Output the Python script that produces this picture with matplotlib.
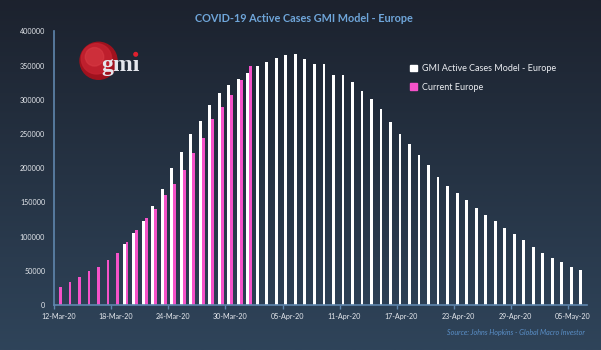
import matplotlib.pyplot as plt
import numpy as np
import pandas as pd
from matplotlib.colors import LinearSegmentedColormap
from matplotlib.patches import Circle, Patch

DATES = pd.date_range("2020-03-12", "2020-05-06", freq="D")

# GMI model series starts on 19-Mar-20
MODEL_START = 7
MODEL = [89000, 104800, 122800, 144700, 169400, 200300, 223200, 250000,
         269500, 291900, 309400, 321600, 330400, 339700, 348900, 355700,
         361600, 365000, 367000, 360100, 351900, 352800, 336300, 336300,
         326000, 313300, 301600, 286600, 267100, 250500, 235800, 219800,
         204200, 187600, 174000, 164200, 153500, 141300, 132000, 122800,
         113000, 104300, 95000, 84800, 75500, 68700, 62900, 55600, 51200]

# actual active cases, 12-Mar-20 to 01-Apr-20
CURRENT = [25900, 33200, 40500, 49200, 56000, 65800, 76000, 92600, 109600,
           126700, 140800, 160400, 176900, 197400, 221700, 244600, 271400,
           290000, 306500, 328400, 349400]

Y_TICKS = [0, 50000, 100000, 150000, 200000, 250000, 300000, 350000, 400000]

WHITE = "#ffffff"
PINK = "#f552c9"
AXIS_BLUE = "#5f86ad"
FONT = "Lato"

W, H = 601, 350


def px(x, y):
    return x / W, 1 - y / H


fig = plt.figure(figsize=(6.01, 3.5), dpi=100)

bg = fig.add_axes([0, 0, 1, 1], zorder=-10)
grad = np.linspace(0, 1, 256).reshape(-1, 1)
cmap = LinearSegmentedColormap.from_list("bg", ["#1c222e", "#2f445a"])
bg.imshow(grad, aspect="auto", cmap=cmap, extent=[0, 1, 0, 1], origin="upper")
bg.axis("off")

ax = fig.add_axes([54.3 / W, 45 / H, 532.6 / W, 273.7 / H])
ax.set_facecolor("none")

x_model = np.arange(MODEL_START, MODEL_START + len(MODEL))
x_cur = np.arange(len(CURRENT))
bw = 0.3
ax.bar(x_model - bw / 2, MODEL, width=bw, color=WHITE, linewidth=0,
       label="GMI Active Cases Model - Europe")
ax.bar(x_cur + bw / 2, CURRENT, width=bw, color=PINK, linewidth=0,
       label="Current Europe")

ax.set_xlim(-0.5, len(DATES) - 0.5)
ax.set_ylim(0, 400000)

for s in ["top", "right"]:
    ax.spines[s].set_visible(False)
for s in ["left", "bottom"]:
    ax.spines[s].set_color(AXIS_BLUE)
    ax.spines[s].set_linewidth(1.2)

ax.set_yticks(Y_TICKS)
ax.set_yticklabels([str(v) for v in Y_TICKS])
ax.tick_params(axis="y", length=0, pad=6.5, labelsize=5.1, labelcolor="#e6e9ee")

label_idx = np.arange(0, len(DATES), 6)
ax.set_xticks(label_idx)
ax.set_xticklabels([DATES[i].strftime("%d-%b-%y") for i in label_idx])
ax.set_xticks(label_idx - 0.5, minor=True)
ax.tick_params(axis="x", which="major", length=0, pad=5.5, labelsize=5.1,
               labelcolor="#e6e9ee")
ax.tick_params(axis="x", which="minor", length=3, width=1, color=AXIS_BLUE)
for lbl in ax.get_xticklabels() + ax.get_yticklabels():
    lbl.set_fontfamily(FONT)

handles = [Patch(color=WHITE), Patch(color=PINK)]
leg = fig.legend(handles, ["GMI Active Cases Model - Europe", "Current Europe"],
                 loc="upper left", bbox_to_anchor=px(402, 56), frameon=False,
                 handlelength=0.8, handleheight=0.8, handletextpad=0.55,
                 labelspacing=1.1, prop={"family": FONT, "size": 6.5})
for t in leg.get_texts():
    t.set_color("#eceef2")

fig.text(*px(304, 19), "COVID-19 Active Cases GMI Model - Europe",
         ha="center", va="center", color="#6fa6da", fontsize=7.8,
         fontweight="bold", family=FONT)
fig.text(*px(585, 332), "Source: Johns Hopkins - Global Macro Investor",
         ha="right", va="center", color="#5a8fc8", fontsize=5.1,
         style="italic", family=FONT)

# gmi logo
tr = fig.dpi_scale_trans
cx, cy, r = 98.5 / 100, (H - 60.8) / 100, 18.5 / 100
fig.patches.append(Circle((cx, cy), r, transform=tr, color="#a0121e"))
fig.patches.append(Circle((cx - 0.02, cy + 0.02), r * 0.82, transform=tr,
                          color="#c42230", alpha=0.85))
fig.patches.append(Circle((cx - 0.04, cy + 0.04), r * 0.5, transform=tr,
                          color="#d83a44", alpha=0.6))
fig.text(*px(101, 71), "gm\u0131", ha="left", va="baseline", color="#e4e6ec",
         fontsize=17, fontweight="bold", family="Liberation Serif")
fig.patches.append(Circle((135.7 / 100, (H - 54.3) / 100), 0.018,
                          transform=tr, color="#e0202e"))

fig.savefig("out.png", dpi=100)
